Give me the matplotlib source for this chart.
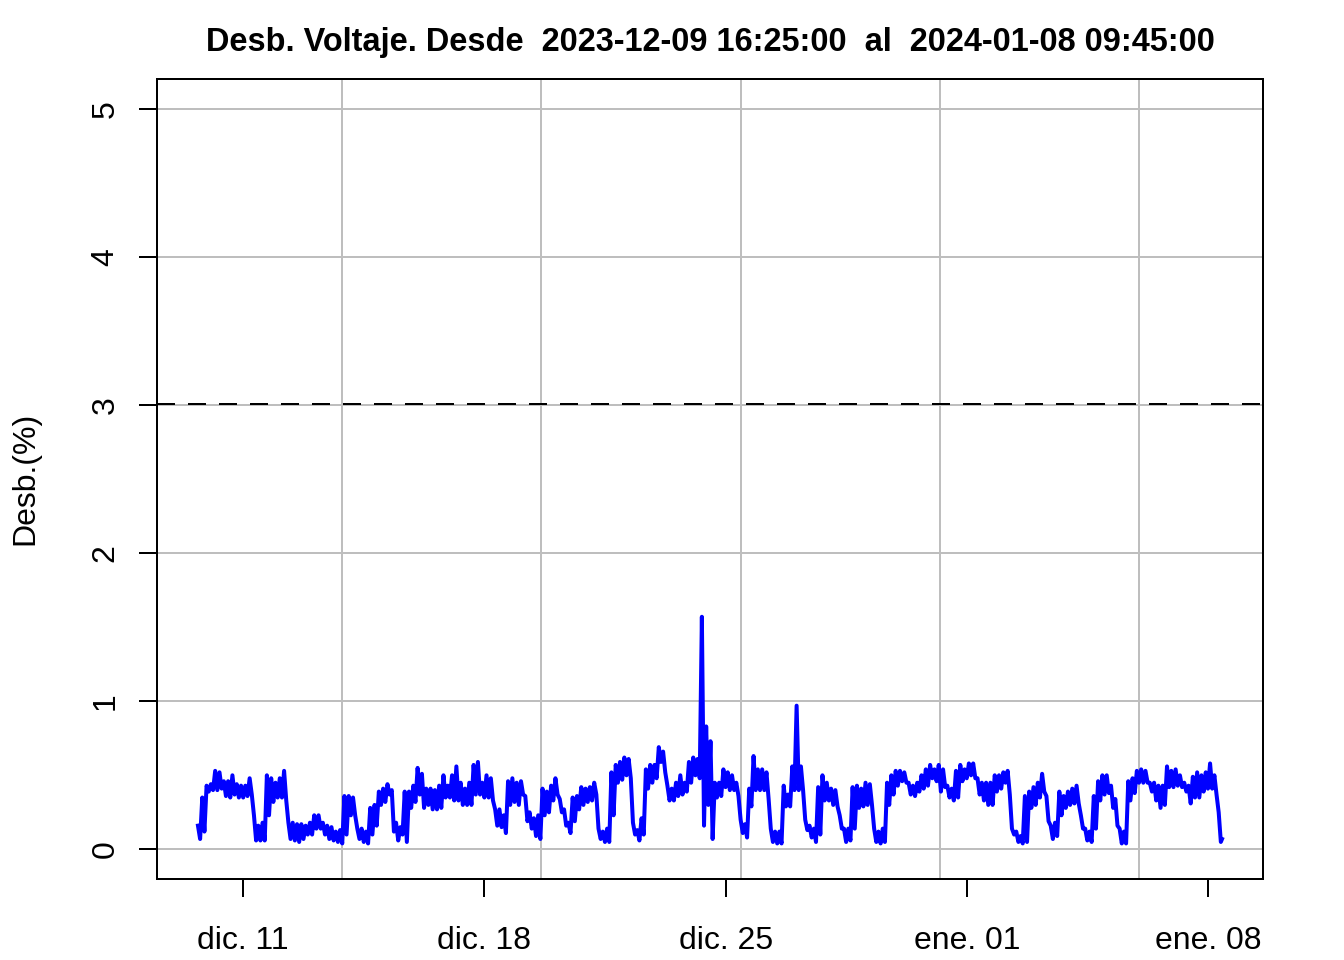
import matplotlib.pyplot as plt
import matplotlib.dates as mdates
import numpy as np
import pandas as pd

plt.rcParams['font.family'] = ['Liberation Sans', 'DejaVu Sans']

start = "2023-12-09 16:25:00"
end = "2024-01-08 09:45:00"

desb_max = [
    0.16, 0.35, 0.43, 0.44, 0.53, 0.52, 0.46, 0.46, 0.50, 0.44,
    0.43, 0.43, 0.48, 0.23, 0.16, 0.18, 0.50, 0.48, 0.45, 0.48,
    0.53, 0.18, 0.18, 0.17, 0.17, 0.16, 0.18, 0.23, 0.23, 0.18,
    0.16, 0.15, 0.12, 0.13, 0.36, 0.36, 0.35, 0.14, 0.14, 0.12,
    0.28, 0.30, 0.39, 0.41, 0.44, 0.40, 0.18, 0.15, 0.39, 0.39,
    0.43, 0.55, 0.51, 0.41, 0.41, 0.40, 0.43, 0.50, 0.43, 0.50,
    0.56, 0.45, 0.41, 0.45, 0.57, 0.59, 0.45, 0.50, 0.48, 0.27,
    0.27, 0.23, 0.46, 0.48, 0.45, 0.46, 0.36, 0.25, 0.21, 0.23,
    0.41, 0.39, 0.43, 0.48, 0.34, 0.27, 0.18, 0.35, 0.36, 0.42,
    0.41, 0.42, 0.45, 0.14, 0.12, 0.14, 0.52, 0.57, 0.59, 0.62,
    0.61, 0.18, 0.13, 0.21, 0.54, 0.57, 0.57, 0.69, 0.66, 0.43,
    0.41, 0.45, 0.50, 0.45, 0.59, 0.62, 0.61, 1.57, 0.83, 0.73,
    0.45, 0.45, 0.54, 0.52, 0.50, 0.45, 0.20, 0.17, 0.41, 0.63,
    0.54, 0.54, 0.52, 0.14, 0.12, 0.12, 0.43, 0.37, 0.56, 0.97,
    0.56, 0.20, 0.16, 0.14, 0.42, 0.50, 0.45, 0.41, 0.40, 0.23,
    0.14, 0.14, 0.42, 0.43, 0.41, 0.45, 0.44, 0.14, 0.12, 0.14,
    0.45, 0.50, 0.53, 0.53, 0.52, 0.45, 0.43, 0.45, 0.50, 0.54,
    0.57, 0.54, 0.57, 0.54, 0.43, 0.41, 0.53, 0.57, 0.54, 0.58,
    0.58, 0.48, 0.45, 0.45, 0.45, 0.50, 0.50, 0.52, 0.53, 0.14,
    0.12, 0.09, 0.36, 0.39, 0.42, 0.45, 0.51, 0.36, 0.16, 0.18,
    0.39, 0.36, 0.39, 0.41, 0.43, 0.23, 0.14, 0.12, 0.36, 0.46,
    0.50, 0.50, 0.43, 0.34, 0.14, 0.12, 0.46, 0.48, 0.53, 0.54,
    0.53, 0.45, 0.45, 0.43, 0.43, 0.56, 0.53, 0.54, 0.50, 0.45,
    0.43, 0.49, 0.52, 0.50, 0.52, 0.58, 0.50, 0.25,
]
desb_min = [
    0.07, 0.12, 0.39, 0.40, 0.40, 0.41, 0.36, 0.35, 0.37, 0.35,
    0.35, 0.36, 0.37, 0.06, 0.06, 0.06, 0.23, 0.32, 0.35, 0.35,
    0.33, 0.07, 0.06, 0.05, 0.07, 0.10, 0.10, 0.14, 0.14, 0.10,
    0.07, 0.06, 0.05, 0.04, 0.10, 0.23, 0.23, 0.07, 0.05, 0.04,
    0.10, 0.16, 0.30, 0.32, 0.37, 0.12, 0.06, 0.10, 0.05, 0.28,
    0.32, 0.37, 0.28, 0.30, 0.27, 0.27, 0.28, 0.35, 0.35, 0.33,
    0.33, 0.30, 0.30, 0.30, 0.37, 0.37, 0.35, 0.35, 0.33, 0.16,
    0.15, 0.11, 0.30, 0.32, 0.30, 0.37, 0.19, 0.14, 0.09, 0.07,
    0.23, 0.25, 0.33, 0.37, 0.25, 0.16, 0.11, 0.19, 0.27, 0.30,
    0.32, 0.33, 0.37, 0.07, 0.05, 0.05, 0.23, 0.45, 0.47, 0.50,
    0.48, 0.10, 0.06, 0.10, 0.41, 0.45, 0.48, 0.59, 0.52, 0.33,
    0.33, 0.36, 0.37, 0.39, 0.45, 0.50, 0.48, 0.16, 0.30, 0.07,
    0.35, 0.36, 0.42, 0.40, 0.40, 0.36, 0.11, 0.08, 0.29, 0.40,
    0.40, 0.40, 0.34, 0.05, 0.04, 0.04, 0.29, 0.29, 0.40, 0.40,
    0.40, 0.13, 0.08, 0.05, 0.10, 0.33, 0.33, 0.30, 0.29, 0.14,
    0.05, 0.06, 0.14, 0.28, 0.29, 0.30, 0.30, 0.05, 0.04, 0.05,
    0.30, 0.37, 0.43, 0.46, 0.45, 0.37, 0.36, 0.39, 0.41, 0.43,
    0.48, 0.46, 0.39, 0.42, 0.35, 0.33, 0.35, 0.46, 0.48, 0.50,
    0.48, 0.37, 0.33, 0.30, 0.30, 0.39, 0.41, 0.45, 0.37, 0.10,
    0.05, 0.04, 0.05, 0.28, 0.30, 0.35, 0.39, 0.19, 0.07, 0.09,
    0.23, 0.28, 0.30, 0.31, 0.31, 0.14, 0.06, 0.05, 0.14, 0.33,
    0.37, 0.38, 0.28, 0.16, 0.04, 0.04, 0.33, 0.38, 0.45, 0.45,
    0.45, 0.39, 0.33, 0.28, 0.30, 0.42, 0.42, 0.43, 0.42, 0.39,
    0.31, 0.35, 0.35, 0.39, 0.41, 0.41, 0.37, 0.05,
]
desb_end = 0.07
limite = 3

tick_dates = ["2023-12-11", "2023-12-18", "2023-12-25", "2024-01-01", "2024-01-08"]
tick_labels = ["dic. 11", "dic. 18", "dic. 25", "ene. 01", "ene. 08"]

t_max = pd.date_range(start, periods=len(desb_max), freq="3h")
t_min = t_max + pd.Timedelta(minutes=90)
serie = pd.concat([pd.Series(desb_max, index=t_max), pd.Series(desb_min, index=t_min),
                   pd.Series([desb_end], index=[pd.Timestamp(end)])]).sort_index()
x = mdates.date2num(serie.index.to_pydatetime())

fig = plt.figure(figsize=(7, 5), dpi=192)
ax = fig.add_axes([157/1344, 1 - 879/960, (1263-157)/1344, (879-79)/960])

# R-style axis extents (4% padding)
span = x[-1] - x[0]
ax.set_xlim(x[0] - 0.04*span, x[-1] + 0.04*span)
ax.set_ylim(-0.2, 5.2)

# grid like R grid(): pretty() on epoch seconds
lo, hi = ax.get_xlim()
gx = [k*500000/86400 for k in range(int(lo*86400/500000), int(hi*86400/500000) + 2)]
gx = [g for g in gx if lo < g < hi]
for g in gx:
    ax.axvline(g, color="#BEBEBE", lw=0.75, zorder=1)
for g in range(0, 6):
    ax.axhline(g, color="#BEBEBE", lw=0.75, zorder=1)

ax.axhline(limite + 0.005, color="black", lw=0.75, ls=(0, (9, 6.5)), zorder=2)
ax.plot(x, serie.values, color="blue", lw=1.5, zorder=3)

ax.set_xticks(mdates.date2num(pd.to_datetime(tick_dates).to_pydatetime()))
ax.set_xticklabels(tick_labels)
ax.set_yticks(range(0, 6))
ax.tick_params(axis="both", length=6.75, width=0.75, labelsize=12, color="black")
ax.tick_params(axis="x", pad=11)
ax.tick_params(axis="y", pad=7)
plt.setp(ax.get_yticklabels(), rotation=90, va="center")
for s in ax.spines.values():
    s.set_linewidth(0.75)

fig.text(25/1344, 1 - 478/960, "Desb.(%)", rotation=90, ha="center", va="center", fontsize=12)
fig.text(710/1344, 1 - 42/960,
         "Desb. Voltaje. Desde  2023-12-09 16:25:00  al  2024-01-08 09:45:00",
         ha="center", va="center", fontsize=12.2, fontweight="bold")

fig.savefig("out.png", dpi=192)
